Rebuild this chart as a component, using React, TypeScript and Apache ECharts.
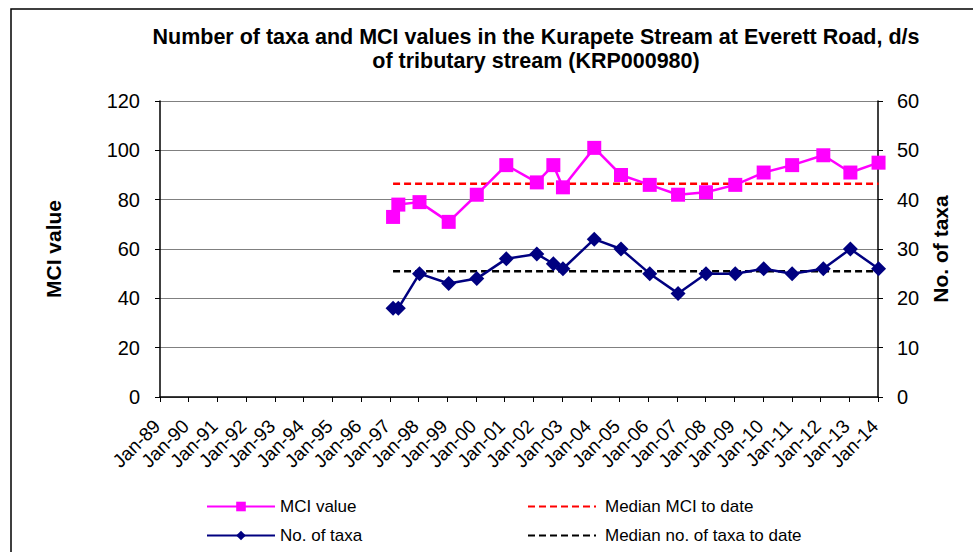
import React, { useEffect, useRef } from "react";
import * as echarts from "echarts";

const sampleDates = [
  "1997-02-12", "1997-04-20", "1998-01-14", "1999-01-20", "2000-01-12",
  "2001-01-22", "2002-02-14", "2002-09-12", "2003-01-12", "2004-02-14",
  "2005-01-20", "2006-01-20", "2007-01-15", "2008-01-05", "2009-01-12",
  "2010-01-08", "2011-01-05", "2012-02-05", "2013-01-15", "2014-01-08",
];
const mciValues = [73, 78, 79, 71, 82, 94, 87, 94, 85, 101, 90, 86, 82, 83, 86, 91, 94, 98, 91, 95];
const taxaValues = [18, 18, 25, 23, 24, 28, 29, 27, 26, 32, 30, 25, 21, 25, 25, 26, 25, 26, 30, 26];
const xTickLabels = [
  "Jan-89", "Jan-90", "Jan-91", "Jan-92", "Jan-93", "Jan-94", "Jan-95", "Jan-96", "Jan-97",
  "Jan-98", "Jan-99", "Jan-00", "Jan-01", "Jan-02", "Jan-03", "Jan-04", "Jan-05", "Jan-06",
  "Jan-07", "Jan-08", "Jan-09", "Jan-10", "Jan-11", "Jan-12", "Jan-13", "Jan-14",
];
const firstYear = 1989;
const lastYear = 2014;
const mciTicks = [0, 20, 40, 60, 80, 100, 120];
const taxaTicks = [0, 10, 20, 30, 40, 50, 60];

const FONT = "'Liberation Sans', Arial, sans-serif";

function toDecimalYear(s: string): number {
  const [y, m, d] = s.split("-").map(Number);
  const start = Date.UTC(y, 0, 1);
  const end = Date.UTC(y + 1, 0, 1);
  return y + (Date.UTC(y, m - 1, d) - start) / (end - start);
}

function median(arr: number[]): number {
  const s = [...arr].sort((a, b) => a - b);
  const n = s.length;
  return n % 2 ? s[(n - 1) / 2] : (s[n / 2 - 1] + s[n / 2]) / 2;
}

const borderRect = {
  type: "rect",
  shape: { x: 11, y: 9, width: 1000, height: 600 },
  style: { fill: "none", stroke: "#000", lineWidth: 1.5 },
  silent: true,
};

export default function App() {
  const ref = useRef<HTMLDivElement>(null);
  useEffect(() => {
    if (!ref.current) return;
    const chart = echarts.init(ref.current, null, { renderer: "svg" });
    const xs = sampleDates.map(toDecimalYear);
    const mciData = xs.map((x, i) => [x, mciValues[i]]);
    const taxaData = xs.map((x, i) => [x, taxaValues[i]]);
    const mciMed = median(mciValues);
    const taxaMed = median(taxaValues);
    const x0 = xs[0];
    const x1 = xs[xs.length - 1];

    chart.setOption({
      animation: false,
      backgroundColor: "#ffffff",
      textStyle: { fontFamily: FONT },
      title: {
        text: "Number of taxa and MCI values in the Kurapete Stream at Everett Road, d/s\nof tributary stream (KRP000980)",
        left: 536,
        top: 25,
        padding: 0,
        textAlign: "center",
        textStyle: { fontFamily: FONT, fontSize: 21.5, fontWeight: "bold", color: "#000", lineHeight: 24 },
      },
      graphic: [borderRect],
      grid: { left: 160, right: 95, top: 101, bottom: 155 },
      legend: [
        {
          orient: "vertical",
          left: 206,
          top: 498,
          itemWidth: 68,
          itemHeight: 12,
          itemGap: 12,
          padding: 0,
          textStyle: { fontFamily: FONT, fontSize: 17, color: "#000" },
          data: ["MCI value", "No. of taxa"],
        },
        {
          orient: "vertical",
          left: 527,
          top: 498,
          itemWidth: 68,
          itemHeight: 12,
          itemGap: 12,
          padding: 0,
          textStyle: { fontFamily: FONT, fontSize: 17, color: "#000", padding: [0, 0, 0, 4] },
          data: [
            { name: "Median MCI to date", itemStyle: { opacity: 0 } },
            { name: "Median no. of taxa to date", itemStyle: { opacity: 0 } },
          ],
        },
      ],
      xAxis: {
        type: "value",
        min: firstYear,
        max: lastYear,
        interval: 1,
        axisLine: { show: true, lineStyle: { color: "#000", width: 1.5 } },
        axisTick: { show: true, length: 5, lineStyle: { color: "#000" } },
        splitLine: { show: false },
        axisLabel: { show: false },
      },
      yAxis: [
        {
          type: "value",
          min: mciTicks[0],
          max: mciTicks[mciTicks.length - 1],
          interval: 20,
          name: "MCI value",
          nameLocation: "middle",
          nameRotate: 90,
          nameGap: 96,
          nameTextStyle: { fontFamily: FONT, fontSize: 21, fontWeight: "bold", color: "#000" },
          axisLine: { show: true, lineStyle: { color: "#000", width: 1.5 } },
          axisTick: { show: true, length: 5, lineStyle: { color: "#000" } },
          splitLine: { show: true, lineStyle: { color: "#808080", width: 1 } },
          axisLabel: { fontSize: 20, fontFamily: FONT, color: "#000", margin: 20 },
        },
        {
          type: "value",
          min: taxaTicks[0],
          max: taxaTicks[taxaTicks.length - 1],
          interval: 10,
          position: "right",
          name: "No. of taxa",
          nameLocation: "middle",
          nameRotate: 90,
          nameGap: 49,
          nameTextStyle: { fontFamily: FONT, fontSize: 21, fontWeight: "bold", color: "#000" },
          axisLine: { show: true, lineStyle: { color: "#000", width: 1.5 } },
          axisTick: { show: true, length: 5, lineStyle: { color: "#000" } },
          splitLine: { show: false },
          axisLabel: { fontSize: 20, fontFamily: FONT, color: "#000", margin: 19 },
        },
      ],
      series: [
        {
          name: "MCI value",
          type: "line",
          yAxisIndex: 0,
          data: mciData,
          clip: false,
          symbol: "rect",
          symbolSize: 14,
          itemStyle: { color: "#FF00FF" },
          lineStyle: { color: "#FF00FF", width: 2.5 },
          z: 4,
        },
        {
          name: "No. of taxa",
          type: "line",
          yAxisIndex: 1,
          data: taxaData,
          clip: false,
          symbol: "diamond",
          symbolSize: 15,
          itemStyle: { color: "#000080" },
          lineStyle: { color: "#000080", width: 2.5 },
          z: 4,
        },
        {
          name: "Median MCI to date",
          type: "line",
          yAxisIndex: 0,
          data: [[x0, mciMed], [x1, mciMed]],
          clip: false,
          symbol: "none",
          itemStyle: { color: "#FF0000", opacity: 0 },
          lineStyle: { color: "#FF0000", width: 2.5, type: [7, 4], opacity: 1 },
          z: 3,
        },
        {
          name: "Median no. of taxa to date",
          type: "line",
          yAxisIndex: 1,
          data: [[x0, taxaMed], [x1, taxaMed]],
          clip: false,
          symbol: "none",
          itemStyle: { color: "#000000", opacity: 0 },
          lineStyle: { color: "#000000", width: 2.5, type: [7, 4], opacity: 1 },
          z: 3,
        },
      ],
    });

    // x tick labels placed at the axis' own tick positions
    const axisY = chart.convertToPixel({ yAxisIndex: 0 }, 0) as number;
    const tickLabels = xTickLabels.map((t, i) => {
      const px = chart.convertToPixel({ xAxisIndex: 0 }, firstYear + i) as number;
      return {
        type: "text",
        x: px - 3,
        y: axisY + 26,
        rotation: Math.PI / 4,
        silent: true,
        style: {
          text: t,
          fontSize: 19,
          fontFamily: FONT,
          fill: "#000",
          align: "right",
          verticalAlign: "middle",
        },
      };
    });
    chart.setOption({ graphic: [borderRect, ...tickLabels] });

    return () => chart.dispose();
  }, []);
  return (
    <div
      ref={ref}
      style={{ position: "fixed", left: 0, top: 0, width: 973, height: 552, background: "#fff" }}
    />
  );
}
